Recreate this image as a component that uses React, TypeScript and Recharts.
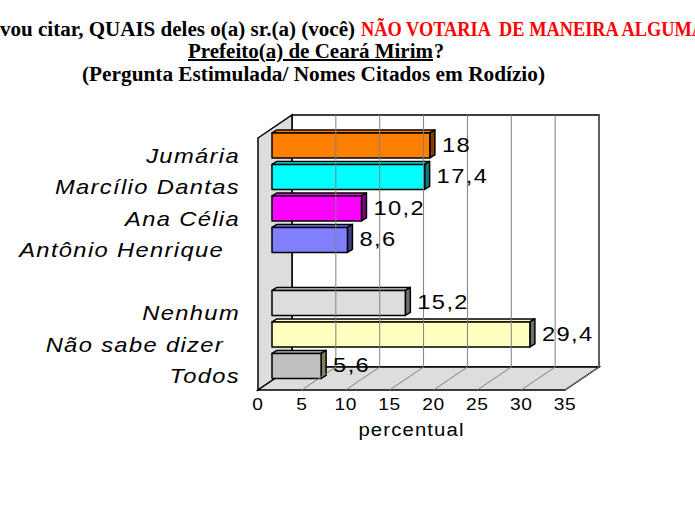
import React from "react";
import {
  BarChart,
  Bar,
  XAxis,
  YAxis,
  Cell,
  LabelList,
  ReferenceArea,
  ReferenceLine,
} from "recharts";

const categories = [
  "Jumária",
  "Marcílio Dantas",
  "Ana Célia",
  "Antônio Henrique ",
  "",
  "Nenhum",
  "Não sabe dizer ",
  "Todos",
];
const values: (number | null)[] = [18, 17.4, 10.2, 8.6, null, 15.2, 29.4, 5.6];
const xTicks = [0, 5, 10, 15, 20, 25, 30, 35];

const FRONT = ["#FF8000", "#00FFFF", "#FF00FF", "#8080FF", "#DDDDDD", "#FFFFC0", "#C0C0C0"];
const SIDE = ["#804000", "#008080", "#800080", "#404080", "#6E6E6E", "#808060", "#606060"];

const data = categories.map((name, i) => ({ name, value: values[i] }));

// 3d offsets relative to the bar plane
const BACK = { dx: 20, dy: -13 };
const FRONT_PLANE = { dx: -14, dy: 10 };

const LABEL_FONT = "'Liberation Sans', Arial, sans-serif";
const TITLE_FONT = "'Liberation Serif', 'Times New Roman', serif";
const WIDE = 1.13;

function colorIndex(i: number) {
  return i > 4 ? i - 1 : i;
}

function Walls(props: any) {
  const { x, y, width, height } = props;
  const bx = x + BACK.dx;
  const by = y + BACK.dy;
  const fx = x + FRONT_PLANE.dx;
  const fy = y + FRONT_PLANE.dy;
  return (
    <g>
      <rect x={bx} y={by} width={width} height={height} fill="#fff" stroke="#000" strokeWidth={1.5} />
      <polygon
        points={`${fx},${fy} ${bx},${by} ${bx},${by + height} ${fx},${fy + height}`}
        fill="#DDDDDD"
        stroke="#000"
        strokeWidth={1.5}
      />
      <polygon
        points={`${fx},${fy + height} ${fx + width},${fy + height} ${bx + width},${by + height} ${bx},${by + height}`}
        fill="#DDDDDD"
        stroke="#000"
        strokeWidth={1.5}
      />
    </g>
  );
}

// grid line on back wall plus diagonal on the floor
function GridLine(props: any) {
  const { x1, y1, y2 } = props;
  const top = Math.min(y1, y2);
  const bottom = Math.max(y1, y2);
  return (
    <g>
      <line
        x1={x1 + BACK.dx}
        y1={top + BACK.dy}
        x2={x1 + BACK.dx}
        y2={bottom + BACK.dy}
        stroke="#808080"
        strokeWidth={1}
      />
      <line
        x1={x1 + FRONT_PLANE.dx}
        y1={bottom + FRONT_PLANE.dy}
        x2={x1 + BACK.dx}
        y2={bottom + BACK.dy}
        stroke="#808080"
        strokeWidth={1}
      />
    </g>
  );
}

function Bar3D(props: any) {
  const { x, y, width, height, fill, index } = props;
  if (!width || width <= 0) return null;
  const d = 5;
  const t = 3;
  const fy = y + t;
  const fh = height - t;
  const side = SIDE[colorIndex(index)];
  return (
    <g stroke="#000" strokeWidth={1.5} strokeLinejoin="round">
      <polygon points={`${x},${fy} ${x + d},${y} ${x + width + d},${y} ${x + width},${fy}`} fill={fill} />
      <polygon
        points={`${x + width},${fy} ${x + width + d},${y} ${x + width + d},${y + fh} ${x + width},${fy + fh}`}
        fill={side}
      />
      <rect x={x} y={fy} width={width} height={fh} fill={fill} />
    </g>
  );
}

function ValueLabel(props: any) {
  const { x, y, width, height, value } = props;
  if (value == null) return null;
  return (
    <text
      transform={`translate(${x + width + 12},${y + height / 2 + 8}) scale(${WIDE},1)`}
      fontFamily={LABEL_FONT}
      fontSize={21}
      letterSpacing={1.2}
      fill="#000"
    >
      {String(value).replace(".", ",")}
    </text>
  );
}

function CategoryTick(props: any) {
  const { x, y, payload } = props;
  return (
    <text
      transform={`translate(${x - 32},${y + 19}) scale(${WIDE},1)`}
      textAnchor="end"
      fontFamily={LABEL_FONT}
      fontStyle="italic"
      fontSize={21}
      letterSpacing={1.2}
      fill="#000"
      style={{ whiteSpace: "pre" }}
    >
      {String(payload.value).replace(/ $/, "\u00a0\u00a0")}
    </text>
  );
}

function ValueTick(props: any) {
  const { x, y, payload } = props;
  return (
    <text
      transform={`translate(${x + FRONT_PLANE.dx},${y + 30}) scale(${WIDE},1)`}
      textAnchor="middle"
      fontFamily={LABEL_FONT}
      fontSize={17}
      letterSpacing={0.5}
      fill="#000"
    >
      {payload.value}
    </text>
  );
}

function AxisTitle(props: any) {
  const { viewBox } = props;
  return (
    <text
      transform={`translate(${viewBox.x + viewBox.width / 2 + FRONT_PLANE.dx},${viewBox.y + 56}) scale(${WIDE},1)`}
      textAnchor="middle"
      fontFamily={LABEL_FONT}
      fontSize={18}
      letterSpacing={1}
      fill="#000"
    >
      percentual
    </text>
  );
}

function Title() {
  return (
    <svg width={695} height={100} style={{ position: "absolute", left: 0, top: 0 }}>
      <g fontFamily={TITLE_FONT} fontWeight="bold" fontSize={20}>
        <text x={0} y={36} textLength={355} lengthAdjust="spacingAndGlyphs" fill="#000">
          vou citar, QUAIS deles o(a) sr.(a) (você)
        </text>
        <text x={361} y={36} textLength={344} lengthAdjust="spacingAndGlyphs" fill="#FF0000">
          {"NÃO VOTARIA \u00a0DE MANEIRA ALGUMA"}
        </text>
        <text x={188} y={58} textLength={245} lengthAdjust="spacingAndGlyphs" fill="#000" textDecoration="underline">
          Prefeito(a) de Ceará Mirim
        </text>
        <text x={434} y={58} fill="#000">
          ?
        </text>
        <text x={82} y={81} textLength={463} lengthAdjust="spacingAndGlyphs" fill="#000">
          (Pergunta Estimulada/ Nomes Citados em Rodízio)
        </text>
      </g>
    </svg>
  );
}

export default function App() {
  return (
    <div style={{ position: "absolute", left: 0, top: 0, width: 695, height: 514, background: "#fff" }}>
      <BarChart
        width={695}
        height={514}
        data={data}
        layout="vertical"
        barCategoryGap="6%"
        margin={{ top: 128, right: 116, bottom: 74, left: 0 }}
      >
        <ReferenceArea x1={0} x2={35} shape={<Walls />} ifOverflow="visible" />
        {xTicks.slice(1).map((t) => (
          <ReferenceLine key={t} x={t} ifOverflow="visible" shape={(p: any) => <GridLine {...p} />} />
        ))}
        <XAxis
          type="number"
          domain={[0, 35]}
          ticks={xTicks}
          interval={0}
          axisLine={false}
          tickLine={false}
          tickSize={0}
          tickMargin={0}
          height={60}
          tick={<ValueTick />}
          label={{ content: <AxisTitle /> }}
        />
        <YAxis
          type="category"
          dataKey="name"
          width={272}
          interval={0}
          axisLine={false}
          tickLine={false}
          tickSize={0}
          tickMargin={0}
          tick={<CategoryTick />}
        />
        <Bar dataKey="value" shape={<Bar3D />} isAnimationActive={false}>
          {data.map((d, i) => (
            <Cell key={i} fill={FRONT[colorIndex(i)]} />
          ))}
          <LabelList dataKey="value" content={<ValueLabel />} />
        </Bar>
      </BarChart>
      <Title />
    </div>
  );
}
